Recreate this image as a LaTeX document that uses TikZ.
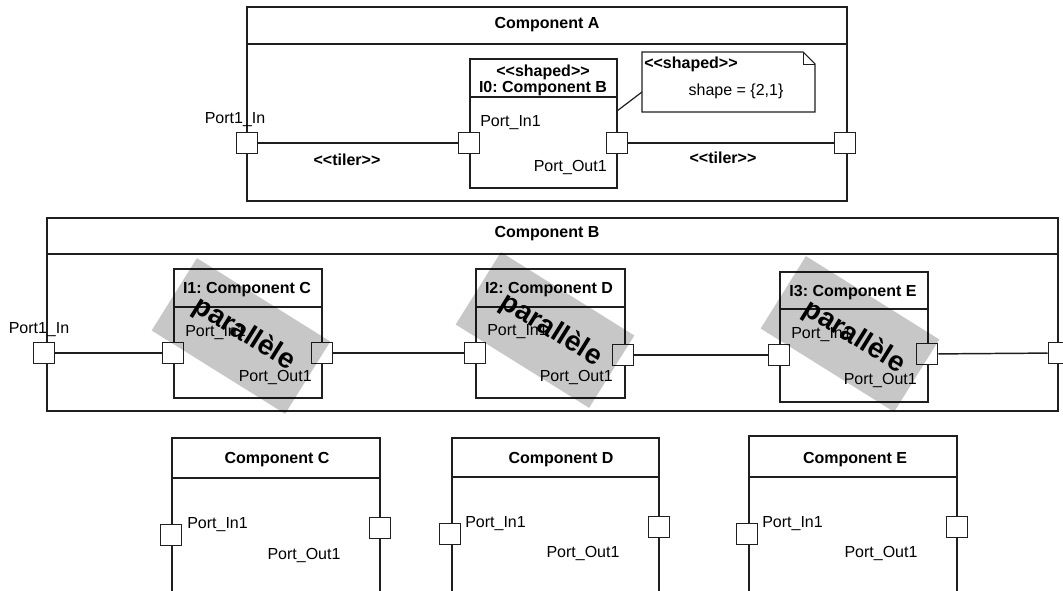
\documentclass[tikz,border=0pt]{standalone}
\usepackage{fontspec}
\setmainfont{Liberation Sans}
\frenchspacing
\newcommand\ltlt{<\kern0pt<}
\newcommand\gtgt{>\kern0pt>}
\begin{document}
\begin{tikzpicture}[x=0.75pt,y=-0.75pt,
  boxline/.style={draw=black!88, line width=1.3pt},
  wire/.style={draw=black!88, line width=1.1pt},
  port/.style={draw=black!88, fill=white, line width=1.2pt, minimum size=16pt, inner sep=0pt},
  lbl/.style={font=\fontsize{12}{14}\selectfont, inner sep=0pt},
  ttl/.style={font=\bfseries\fontsize{12}{14}\selectfont, inner sep=0pt},
  shade/.style={fill=black, fill opacity=0.22, draw=none, rotate=-32, minimum width=118pt, minimum height=64pt, inner sep=0pt},
  par/.style={font=\bfseries\fontsize{21}{24}\selectfont, rotate=-32, inner sep=0pt},
]
\clip (0,0) rectangle (1063,591);

% ---------- Component A ----------
\draw[boxline] (247,7) rectangle (847,201);
\draw[boxline] (247,44) -- (847,44);
\node[ttl, anchor=base] (titleA) at (547,29) {Component A};
\draw[boxline] (470,59) rectangle (617,188);
\draw[boxline] (470,97) -- (617,97);
\node[ttl, anchor=base] (i0s) at (543,77) {\ltlt shaped\gtgt};
\node[ttl, anchor=base] (i0n) at (543,93) {I0: Component B};
\node[port] (aIn) at (247,143) {};
\node[port] (i0In) at (469,143) {};
\node[port] (i0Out) at (617,143) {};
\node[port] (aOut) at (845,143) {};
\draw[wire] (aIn) -- (i0In);
\draw[wire] (i0Out) -- (aOut);
\node[lbl, anchor=base] (aInL) at (235,124) {Port1\_In};
\node[lbl, anchor=base west] (i0InL) at (480,127) {Port\_In1};
\node[lbl, anchor=base east] (i0OutL) at (607,172) {Port\_Out1};
\node[ttl, anchor=base] (t1) at (347,166) {\ltlt tiler\gtgt};
\node[ttl, anchor=base] (t2) at (723,164) {\ltlt tiler\gtgt};
% note
\draw[draw=black!88, line width=0.8pt, fill=white] (642,52) -- (803,52) -- (815,64) -- (815,112) -- (642,112) -- cycle;
\draw[draw=black!88, line width=0.7pt] (803,52) -- (803,64) -- (815,64);
\node[ttl, anchor=base west] (noteS) at (644,69) {\ltlt shaped\gtgt};
\node[lbl, anchor=base] (noteT) at (736,96) {shape = \{2,1\}};
\coordinate (i0R) at (617,111);
\coordinate (noteL) at (642,92);
\draw[wire, line width=0.9pt] (i0R) -- (noteL);

% ---------- Component B ----------
\draw[boxline] (47,218) rectangle (1058,411);
\draw[boxline] (47,254) -- (1058,254);
\node[ttl, anchor=base] (titleB) at (547,238) {Component B};
% I1
\draw[boxline] (174,269) rectangle (322,398);
\draw[boxline] (174,307) -- (322,307);
\node[ttl, anchor=base] (i1n) at (247,294) {I1: Component C};
% I2
\draw[boxline] (476,269) rectangle (625,398);
\draw[boxline] (476,307) -- (625,307);
\node[ttl, anchor=base] (i2n) at (549,294) {I2: Component D};
% I3
\draw[boxline] (780,272) rectangle (928,402);
\draw[boxline] (780,309) -- (928,309);
\node[ttl, anchor=base] (i3n) at (853,297) {I3: Component E};
% ports
\node[port] (bIn) at (44,353) {};
\node[port] (bOut) at (1059,353) {};
\node[port] (i1In) at (173,353) {};
\node[port] (i1Out) at (322,353) {};
\node[port] (i2In) at (475,353) {};
\node[port] (i2Out) at (623,355) {};
\node[port] (i3In) at (779,355) {};
\node[port] (i3Out) at (927,354) {};
\draw[wire] (bIn) -- (i1In);
\draw[wire] (i1Out) -- (i2In);
\draw[wire] (i2Out) -- (i3In);
\draw[wire] (i3Out) -- (bOut);
\node[lbl, anchor=base] (bInL) at (39,334) {Port1\_In};
\node[lbl, anchor=base west] (i1InL) at (185,337) {Port\_In1};
\node[lbl, anchor=base east] (i1OutL) at (312,382) {Port\_Out1};
\node[lbl, anchor=base west] (i2InL) at (487,336) {Port\_In1};
\node[lbl, anchor=base east] (i2OutL) at (613,381) {Port\_Out1};
\node[lbl, anchor=base west] (i3InL) at (791,339) {Port\_In1};
\node[lbl, anchor=base east] (i3OutL) at (917,384) {Port\_Out1};
% parallel overlays
\node[shade] (s1) at (241,336) {};
\node[shade] (s2) at (545,330) {};
\node[shade] (s3) at (850,334) {};
\node[par] (p1) at (244,334) {parallèle};
\node[par] (p2) at (551,330) {parallèle};
\node[par] (p3) at (854,337) {parallèle};

% ---------- bottom row ----------
\draw[boxline] (172,650) -- (172,438) -- (380,438) -- (380,650);
\draw[boxline] (172,478) -- (380,478);
\node[ttl, anchor=base] (titleC) at (277,463) {Component C};
\draw[boxline] (452,650) -- (452,438) -- (659,438) -- (659,650);
\draw[boxline] (452,477) -- (659,477);
\node[ttl, anchor=base] (titleD) at (561,463) {Component D};
\draw[boxline] (749,650) -- (749,436) -- (957,436) -- (957,650);
\draw[boxline] (749,477) -- (957,477);
\node[ttl, anchor=base] (titleE) at (855,463) {Component E};
\node[port] (cIn) at (171,535) {};
\node[port] (cOut) at (380,528) {};
\node[port] (dIn) at (450,534) {};
\node[port] (dOut) at (659,527) {};
\node[port] (eIn) at (747,534) {};
\node[port] (eOut) at (957,527) {};
\node[lbl, anchor=base west] (cInL) at (187,528) {Port\_In1};
\node[lbl, anchor=base] (cOutL) at (304,559) {Port\_Out1};
\node[lbl, anchor=base west] (dInL) at (465,527) {Port\_In1};
\node[lbl, anchor=base] (dOutL) at (583,557) {Port\_Out1};
\node[lbl, anchor=base west] (eInL) at (762,527) {Port\_In1};
\node[lbl, anchor=base] (eOutL) at (881,557) {Port\_Out1};
\end{tikzpicture}
\end{document}
